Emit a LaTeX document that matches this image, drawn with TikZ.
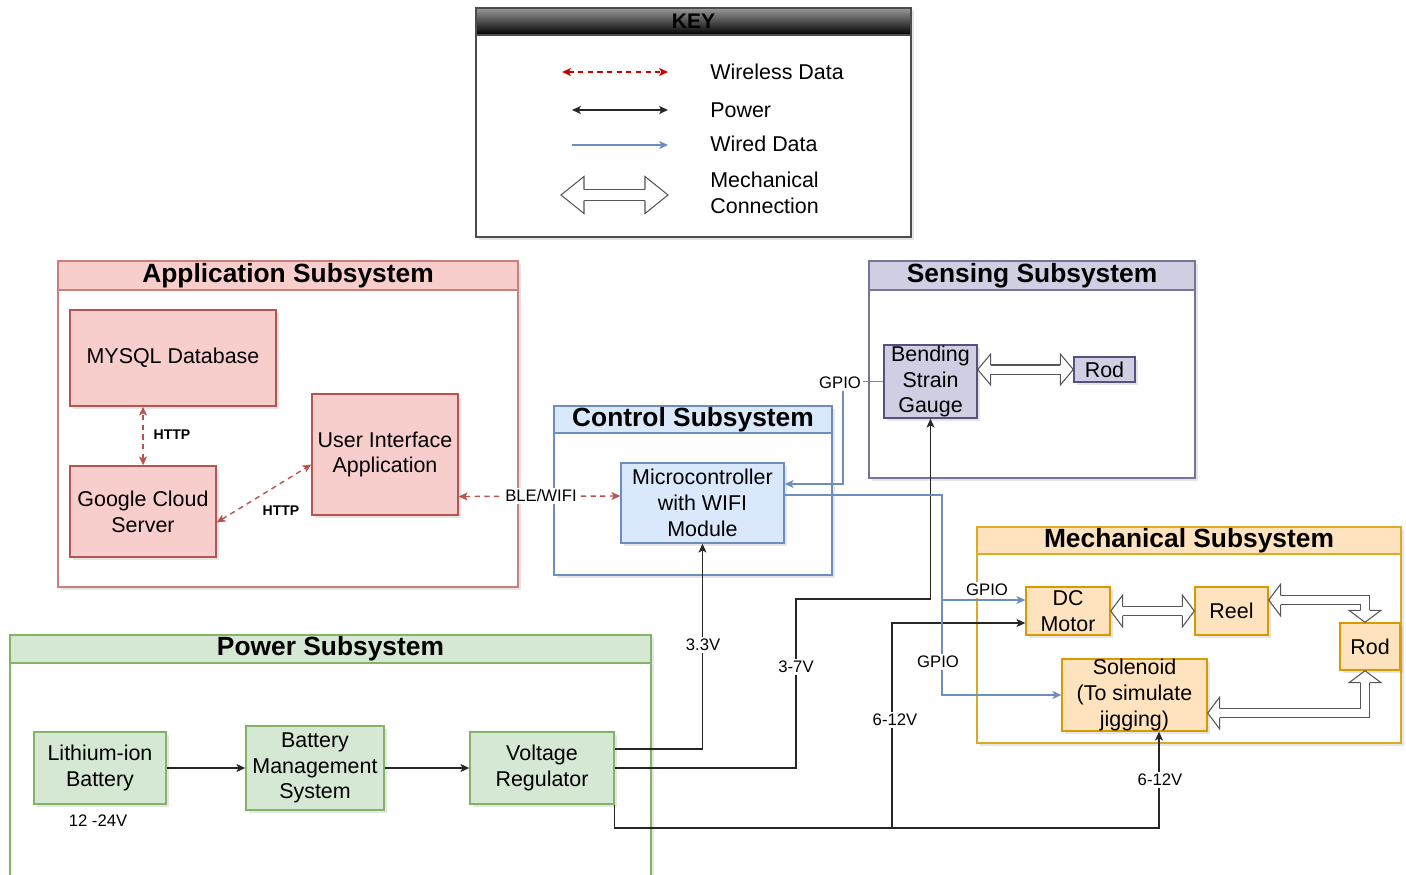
\documentclass[tikz,border=0pt]{standalone}
\usepackage{fontspec}
\setmainfont{Liberation Sans}
\usetikzlibrary{arrows.meta,calc,shadows}

\definecolor{redfill}{HTML}{F8CECC}
\definecolor{redline}{HTML}{B85450}
\definecolor{bluefill}{HTML}{DAE8FC}
\definecolor{blueline}{HTML}{6C8EBF}
\definecolor{purpfill}{HTML}{D0CEE2}
\definecolor{purpline}{HTML}{56517E}
\definecolor{orfill}{HTML}{FFE2BE}
\definecolor{orline}{HTML}{D79B00}
\definecolor{grfill}{HTML}{D5E8D4}
\definecolor{grline}{HTML}{82B366}
\definecolor{wlred}{HTML}{CC0000}
\definecolor{mechgray}{HTML}{555555}

% open block arrow head: tip, direction, head length, half width, shaft half width (px)
\newcommand{\mechHead}[5]{%
  \begin{scope}[shift={(#1)}, rotate=#2]
    \filldraw[mechtip] (-#3,#5) -- (-#3,#4) -- (0,0) -- (-#3,-#4) -- (-#3,-#5);
  \end{scope}}

\tikzset{
  px/.style 2 args={minimum width=#1*0.02cm, minimum height=#2*0.02cm},
  softshadow/.style={drop shadow={shadow xshift=0.05cm, shadow yshift=-0.05cm, opacity=0.2}},
  cframe/.style={draw=#1, line width=0.8pt, fill=white, softshadow, inner sep=0pt},
  chead/.style 2 args={draw=#2, fill=#1, line width=0.8pt, inner sep=0pt,
    font=\fontsize{15}{18}\selectfont\bfseries},
  keyhead/.style={draw=black!70, top color=black!40, bottom color=black, line width=0.8pt,
    inner sep=0pt, font=\fontsize{12}{14}\selectfont\bfseries},
  block/.style 2 args={draw=#2, fill=#1, line width=0.8pt, softshadow, inner sep=0pt,
    align=center, font=\fontsize{12.2}{14.7}\selectfont},
  keytxt/.style={anchor=west, inner sep=0pt, align=left, font=\fontsize{12.2}{14.7}\selectfont},
  wless/.style={draw=redline, line width=0.8pt, dash pattern=on 3pt off 2.5pt},
  pwr/.style={draw=black!85, line width=0.85pt},
  wired/.style={draw=blueline, line width=0.8pt},
  lbl/.style={fill=white, inner sep=1.2pt, font=\fontsize{9.5}{11}\selectfont},
  lblb/.style={fill=white, inner sep=1pt, font=\fontsize{8}{10}\selectfont\bfseries},
  mshaft/.style={draw=mechgray, line width=0.6pt, double=white, double distance=0.16cm},
  mechtip/.style={draw=mechgray, fill=white, line width=0.6pt},
}

\begin{document}
\begin{tikzpicture}[x=0.02cm, y=-0.02cm, >={Stealth[length=5pt,width=4.5pt,inset=1.2pt]}]
\useasboundingbox (0,0) rectangle (1406,875);
\fill[white] (0,0) rectangle (1406,875);

% ---------- key ----------
\node[cframe=black!70, px={435}{229}] (key) at (693.5,122.5) {};
\node[keyhead, px={435}{27}] (keyhd) at (693.5,21.5) {KEY};
\coordinate (kw1) at (562,72);  \coordinate (kw2) at (668,72);
\coordinate (kp1) at (572,110); \coordinate (kp2) at (668,110);
\coordinate (kd1) at (572,145); \coordinate (kd2) at (668,145);
\coordinate (km1) at (561,195); \coordinate (km2) at (668,195);
\draw[wless, draw=wlred, <->] (kw1) -- (kw2);
\draw[pwr, <->] (kp1) -- (kp2);
\draw[wired, ->] (kd1) -- (kd2);
\draw[mshaft, double distance=0.2cm] ($(km1)+(23,0)$) -- ($(km2)+(-23,0)$);
\mechHead{km1}{180}{23}{18.5}{5.5}
\mechHead{km2}{0}{23}{18.5}{5.5}
\node[keytxt] (kt1) at (710,72) {Wireless Data};
\node[keytxt] (kt2) at (710,110) {Power};
\node[keytxt] (kt3) at (710,144) {Wired Data};
\node[keytxt] (kt4) at (710,192.5) {Mechanical\\Connection};

% ---------- subsystem frames ----------
\node[cframe=redline!75, px={460}{326}] (app) at (288,424) {};
\node[chead={redfill}{redline!75}, px={460}{29}] (apphd) at (288,275.5) {Application Subsystem};

\node[cframe=blueline, px={278}{169}] (ctl) at (693,490.5) {};
\node[chead={bluefill}{blueline}, px={278}{27}] (ctlhd) at (693,419.5) {Control Subsystem};

\node[cframe=purpline!80, px={326}{217}] (sns) at (1032,369.5) {};
\node[chead={purpfill}{purpline!80}, px={326}{29}] (snshd) at (1032,275.5) {Sensing Subsystem};

\node[cframe=orline!85, px={424}{216}] (mech) at (1189,635) {};
\node[chead={orfill}{orline!85}, px={424}{27}] (mechhd) at (1189,540.5) {Mechanical Subsystem};

\node[cframe=grline, px={641}{270}] (pwrsys) at (330.5,770) {};
\node[chead={grfill}{grline}, px={641}{28}] (pwrhd) at (330.5,649) {Power Subsystem};

% ---------- blocks ----------
\node[block={redfill}{redline}, px={206}{96}] (mysql) at (173,358) {MYSQL Database};
\node[block={redfill}{redline}, px={146}{91}] (gcs) at (143,511.5) {Google Cloud\\Server};
\node[block={redfill}{redline}, px={146}{121}] (uia) at (385,454.5) {User Interface\\Application};
\node[block={bluefill}{blueline}, px={163}{80}] (mcu) at (702.5,503) {Microcontroller\\with WIFI\\Module};
\node[block={purpfill}{purpline}, px={93}{73}] (gauge) at (930.5,381.5) {Bending\\Strain\\Gauge};
\node[block={purpfill}{purpline}, px={61}{25}] (srod) at (1104.5,369.5) {Rod};
\node[block={orfill}{orline}, px={84}{48}] (motor) at (1068,611) {DC\\Motor};
\node[block={orfill}{orline}, px={73}{48}] (reel) at (1231.5,611) {Reel};
\node[block={orfill}{orline}, px={60}{47}] (mrod) at (1370,646.5) {Rod};
\node[block={orfill}{orline}, px={145}{72}] (sol) at (1134.5,695) {Solenoid\\(To simulate\\jigging)};
\node[block={grfill}{grline}, px={132}{72}] (liion) at (100,768) {Lithium-ion\\Battery};
\node[block={grfill}{grline}, px={138}{84}] (bms) at (315,768) {Battery\\Management\\System};
\node[block={grfill}{grline}, px={144}{72}] (vreg) at (542,768) {Voltage\\Regulator};

% ---------- wireless data ----------
\draw[wless, <->] (gcs.north) -- (gcs.north |- mysql.south);
\draw[wless, <->] ($(gcs.east)+(0,11)$) -- ($(uia.west)+(0,10)$);
\draw[wless, <->] ($(uia.east)+(0,42)$) -- ($(mcu.west)+(0,-7)$);

% ---------- power ----------
\draw[pwr, ->] (liion) -- (bms);
\draw[pwr, ->] (bms) -- (vreg);
\draw[pwr, ->] ($(vreg.east)+(0,-19)$) -| (mcu.south);
\draw[pwr, ->] (vreg.east) -| (796,599) -| (gauge.south);
\coordinate (bus) at (892,828);
\draw[pwr, ->] (vreg.south east) |- (bus) -| ($(sol.south)+(24.5,0)$);
\draw[pwr, ->] (bus) |- ($(motor.west)+(0,12)$);

% ---------- wired data ----------
\draw[wired, ->] (gauge.west) -| (843,484) -- ($(mcu.east)+(0,-19)$);
\coordinate (gp) at (942,600);
\draw[wired, ->] ($(mcu.east)+(0,-8)$) -| (gp) -- ($(motor.west)+(0,-11)$);
\draw[wired, ->] (gp) |- (sol.west);

% ---------- mechanical connections ----------
\coordinate (ga) at (gauge.east |- srod.west);
\draw[mshaft] ($(ga)+(13,0)$) -- ($(srod.west)+(-13,0)$);
\mechHead{ga}{180}{13}{15.5}{4.5}
\mechHead{srod.west}{0}{13}{15.5}{4.5}

\draw[mshaft] ($(motor.east)+(12,0)$) -- ($(reel.west)+(-12,0)$);
\mechHead{motor.east}{180}{12}{16}{4.5}
\mechHead{reel.west}{0}{12}{16}{4.5}

\coordinate (ra) at ($(reel.east)+(0,-11)$);
\coordinate (rt) at ($(mrod.north)+(-5,0)$);
\coordinate (rc) at (rt |- ra);
\draw[mshaft] ($(ra)+(12,0)$) -- (rc) -- ($(rt)+(0,-12)$);
\mechHead{ra}{180}{12}{16}{4.5}
\mechHead{rt}{-90}{12}{16}{4.5}

\coordinate (sa) at ($(sol.east)+(0,18)$);
\coordinate (sb) at ($(mrod.south)+(-5,0)$);
\coordinate (sc) at (sb |- sa);
\draw[mshaft] ($(sa)+(12,0)$) -- (sc) -- ($(sb)+(0,12)$);
\mechHead{sa}{180}{12}{16}{4.5}
\mechHead{sb}{90}{12}{16}{4.5}

% ---------- labels ----------
\node[lblb] (l1) at (172,435) {HTTP};
\node[lblb] (l2) at (281,511) {HTTP};
\node[lbl] (l3) at (541,496) {BLE/WIFI};
\node[lbl] (l4) at (703,645) {3.3V};
\node[lbl] (l5) at (796,667) {3-7V};
\node[lbl] (l6) at (895,720) {6-12V};
\node[lbl] (l7) at (1160,780) {6-12V};
\node[lbl] (l8) at (840,383) {GPIO};
\node[lbl] (l9) at (987,590) {GPIO};
\node[lbl] (l10) at (938,662) {GPIO};
\node[lbl, fill=none] (l11) at (98,821) {12 -24V};
\end{tikzpicture}
\end{document}
